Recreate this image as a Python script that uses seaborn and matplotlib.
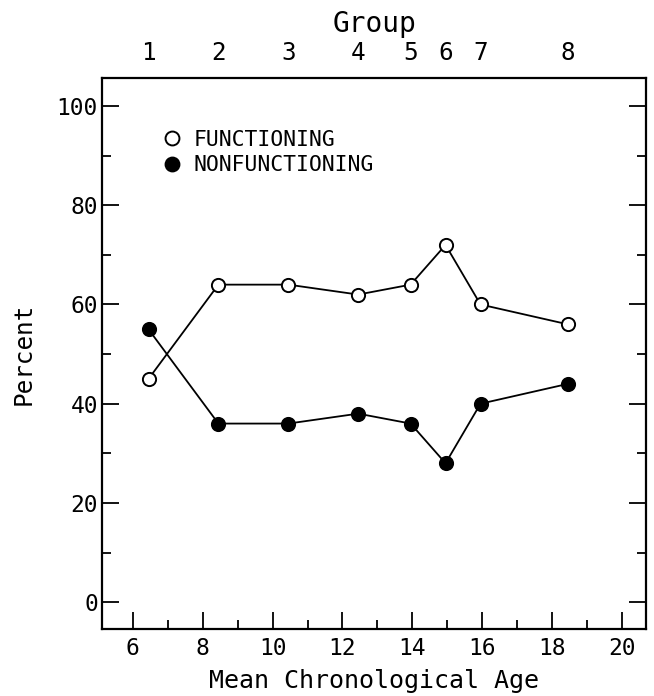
import matplotlib
matplotlib.use("Agg")
import matplotlib.pyplot as plt
import seaborn as sns
import pandas as pd
from matplotlib.ticker import MultipleLocator
from matplotlib.lines import Line2D

# ---- data ----
mean_age = [6.45, 8.45, 10.45, 12.45, 13.95, 14.95, 15.95, 18.45]
group_labels = ["1", "2", "3", "4", "5", "6", "7", "8"]
functioning = [45, 64, 64, 62, 64, 72, 60, 56]
nonfunctioning = [55, 36, 36, 38, 36, 28, 40, 44]
series_names = ["FUNCTIONING", "NONFUNCTIONING"]
x_major_ticks = [6, 8, 10, 12, 14, 16, 18, 20]
y_major_ticks = [0, 20, 40, 60, 80, 100]

sns.set_theme(style="ticks")
plt.rcParams["font.family"] = ["DejaVu Sans Mono", "DejaVu Sans"]
plt.rcParams.update({
    "text.color": "black", "axes.labelcolor": "black",
    "xtick.color": "black", "ytick.color": "black",
    "axes.edgecolor": "black",
})

fig = plt.figure(figsize=(6.54, 6.96), dpi=100)
ax = fig.add_axes([0.156, 0.0963, 0.832, 0.792])

df_f = pd.DataFrame({"age": mean_age, "pct": functioning})
df_n = pd.DataFrame({"age": mean_age, "pct": nonfunctioning})

sns.lineplot(data=df_f, x="age", y="pct", ax=ax, color="black", linewidth=1.3,
             marker="o", markersize=9.5, markerfacecolor="white",
             markeredgecolor="black", markeredgewidth=1.4, zorder=3)
sns.lineplot(data=df_n, x="age", y="pct", ax=ax, color="black", linewidth=1.3,
             marker="o", markersize=9.5, markerfacecolor="black",
             markeredgecolor="black", markeredgewidth=1.4, zorder=3)

ax.set_xlim(5.12, 20.69)
ax.set_ylim(-5.4, 105.7)
ax.set_xticks(x_major_ticks)
ax.set_yticks(y_major_ticks)
ax.xaxis.set_minor_locator(MultipleLocator(1))
ax.yaxis.set_minor_locator(MultipleLocator(10))
ax.tick_params(which="both", direction="in", top=True, right=True, width=1.3)
ax.tick_params(which="major", length=12, labelsize=16.5)
ax.tick_params(which="minor", length=6.5)
ax.tick_params(axis="x", which="major", pad=5.5)
ax.tick_params(axis="y", which="major", pad=3)
for s in ax.spines.values():
    s.set_linewidth(1.6)

ax.set_xlabel("Mean Chronological Age", fontsize=18, labelpad=7)
ax.set_ylabel("Percent", fontsize=17.5, labelpad=15)

# top axis with group numbers
ax2 = ax.twiny()
ax2.set_xlim(ax.get_xlim())
ax2.set_xticks(mean_age)
ax2.set_xticklabels(group_labels)
ax2.tick_params(axis="x", length=0, pad=9, labelsize=17.5)
ax2.xaxis.set_minor_locator(plt.NullLocator())
ax2.set_xlabel("Group", fontsize=20, labelpad=7)
for s in ax2.spines.values():
    s.set_visible(False)

handles = [
    Line2D([], [], linestyle="none", marker="o", markersize=10,
           markerfacecolor="white", markeredgecolor="black", markeredgewidth=1.4),
    Line2D([], [], linestyle="none", marker="o", markersize=10,
           markerfacecolor="black", markeredgecolor="black", markeredgewidth=1.4),
]
ax.legend(handles, series_names, loc="upper left",
          bbox_to_anchor=(163.7 / 654, 1 - 129.5 / 696),
          bbox_transform=fig.transFigure, frameon=False, fontsize=15.4,
          handlelength=0.8, handletextpad=0.6, labelspacing=0.26,
          borderpad=0, borderaxespad=0)

fig.savefig("out.png", dpi=100)
